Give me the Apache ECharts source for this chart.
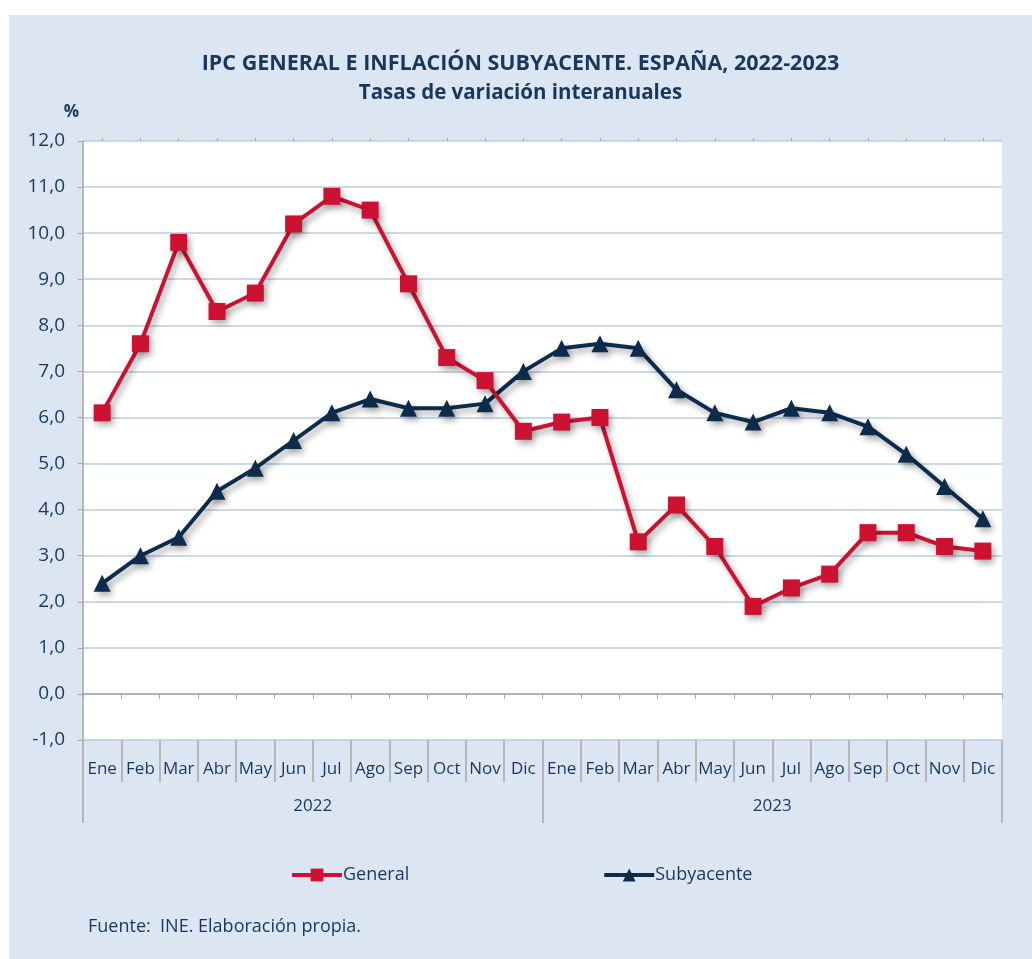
<!DOCTYPE html>
<html>
<head>
<meta charset="utf-8">
<script src="https://cdn.jsdelivr.net/npm/echarts@6/dist/echarts.min.js"></script>
<style>
  html, body { margin: 0; padding: 0; background: #ffffff; }
  #chart {
    position: absolute;
    left: 9px;
    top: 15px;
    width: 1023px;
    height: 944px;
    background: #dce6f2;
  }
</style>
</head>
<body>
<div id="chart"></div>
<script>
const months = ['Ene', 'Feb', 'Mar', 'Abr', 'May', 'Jun', 'Jul', 'Ago', 'Sep', 'Oct', 'Nov', 'Dic',
  'Ene', 'Feb', 'Mar', 'Abr', 'May', 'Jun', 'Jul', 'Ago', 'Sep', 'Oct', 'Nov', 'Dic'];
const years = ['2022', '2023'];
const general = [6.1, 7.6, 9.8, 8.3, 8.7, 10.2, 10.8, 10.5, 8.9, 7.3, 6.8, 5.7,
  5.9, 6.0, 3.3, 4.1, 3.2, 1.9, 2.3, 2.6, 3.5, 3.5, 3.2, 3.1];
const subyacente = [2.4, 3.0, 3.4, 4.4, 4.9, 5.5, 6.1, 6.4, 6.2, 6.2, 6.3, 7.0,
  7.5, 7.6, 7.5, 6.6, 6.1, 5.9, 6.2, 6.1, 5.8, 5.2, 4.5, 3.8];

const navy = '#17375e';
const red = '#cc1131';
const dark = '#0d2b4b';
const font = '"Open Sans", sans-serif';

let myChart = echarts.init(document.getElementById('chart'));
let option = {
  textStyle: { fontFamily: font },
  title: [{
    text: 'IPC GENERAL E INFLACIÓN SUBYACENTE. ESPAÑA, 2022-2023',
    subtext: 'Tasas de variación interanuales',
    left: 'center',
    top: 33,
    itemGap: 8,
    textStyle: { color: navy, fontSize: 21.5, fontWeight: 'bold', fontFamily: font },
    subtextStyle: { color: navy, fontSize: 20.5, fontWeight: 'bold', fontFamily: font }
  }, {
    text: 'Fuente:  INE. Elaboración propia.',
    left: 74,
    top: 898,
    textStyle: { color: navy, fontSize: 18, fontWeight: 'normal', fontFamily: font }
  }],
  legend: {
    top: 846,
    left: 276,
    itemGap: 193,
    itemWidth: 50,
    itemHeight: 16,
    lineStyle: { width: 4 },
    textStyle: { color: navy, fontSize: 18, padding: [0, 0, 0, -4] },
    data: ['General', 'Subyacente']
  },
  grid: {
    left: 74,
    right: 30,
    top: 126,
    bottom: 219,
    show: true,
    backgroundColor: '#ffffff',
    borderWidth: 0
  },
  xAxis: [{
    // eje en el 0 con marcas en los limites
    type: 'category',
    data: months,
    boundaryGap: true,
    axisLine: { onZero: true, lineStyle: { color: '#a6a6a6', width: 1.5 } },
    axisTick: { show: true, interval: 0, length: 5, lineStyle: { color: '#a6a6a6' } },
    axisLabel: { show: false }
  }, {
    // etiquetas de meses abajo
    type: 'category',
    data: months,
    position: 'bottom',
    boundaryGap: true,
    axisLine: { show: false, onZero: false },
    axisTick: { show: true, interval: 0, length: 42, lineStyle: { color: '#a6a6a6', width: 1.5 } },
    axisLabel: { interval: 0, color: navy, fontSize: 17, margin: 21 }
  }, {
    // años
    type: 'category',
    data: years,
    position: 'bottom',
    boundaryGap: true,
    axisLine: { show: false, onZero: false },
    axisTick: { show: true, interval: 0, length: 83, lineStyle: { color: '#a6a6a6', width: 1.5 } },
    axisLabel: { interval: 0, color: navy, fontSize: 17, margin: 58 }
  }, {
    // marcas centrales en el 0
    type: 'category',
    data: months,
    boundaryGap: true,
    axisLine: { show: false, onZero: true },
    axisTick: { show: true, alignWithLabel: true, interval: 0, length: 3, lineStyle: { color: '#a6a6a6' } },
    axisLabel: { show: false }
  }],
  yAxis: {
    type: 'value',
    name: '%',
    nameLocation: 'end',
    nameGap: 20,
    nameTextStyle: { color: navy, fontSize: 17, fontWeight: 'bold', align: 'right', padding: [0, 4, 0, 0] },
    min: -1,
    max: 12,
    interval: 1,
    axisLine: { show: true, lineStyle: { color: '#a6a6a6', width: 1.5 } },
    axisTick: { show: true, length: 5, lineStyle: { color: '#a6a6a6' } },
    splitLine: { show: true, lineStyle: { color: '#b9cde5', width: 1.5 } },
    axisLabel: {
      color: navy,
      fontSize: 19,
      margin: 18,
      formatter: v => v.toFixed(1).replace('.', ',')
    }
  },
  series: [{
    name: 'General',
    type: 'line',
    xAxisIndex: 0,
    data: general,
    symbol: 'rect',
    symbolSize: 17,
    color: red,
    lineStyle: {
      width: 4,
      shadowColor: 'rgba(0,0,0,0.35)',
      shadowBlur: 6,
      shadowOffsetX: 3,
      shadowOffsetY: 4
    },
    itemStyle: {
      color: red,
      shadowColor: 'rgba(0,0,0,0.3)',
      shadowBlur: 6,
      shadowOffsetX: 3,
      shadowOffsetY: 4
    },
    z: 3
  }, {
    name: 'Subyacente',
    type: 'line',
    xAxisIndex: 0,
    data: subyacente,
    symbol: 'triangle',
    symbolSize: 17,
    color: dark,
    lineStyle: {
      width: 4,
      shadowColor: 'rgba(0,0,0,0.35)',
      shadowBlur: 6,
      shadowOffsetX: 3,
      shadowOffsetY: 4
    },
    itemStyle: {
      color: dark,
      shadowColor: 'rgba(0,0,0,0.3)',
      shadowBlur: 6,
      shadowOffsetX: 3,
      shadowOffsetY: 4
    },
    z: 2
  }]
};
myChart.setOption(option);
</script>
</body>
</html>
